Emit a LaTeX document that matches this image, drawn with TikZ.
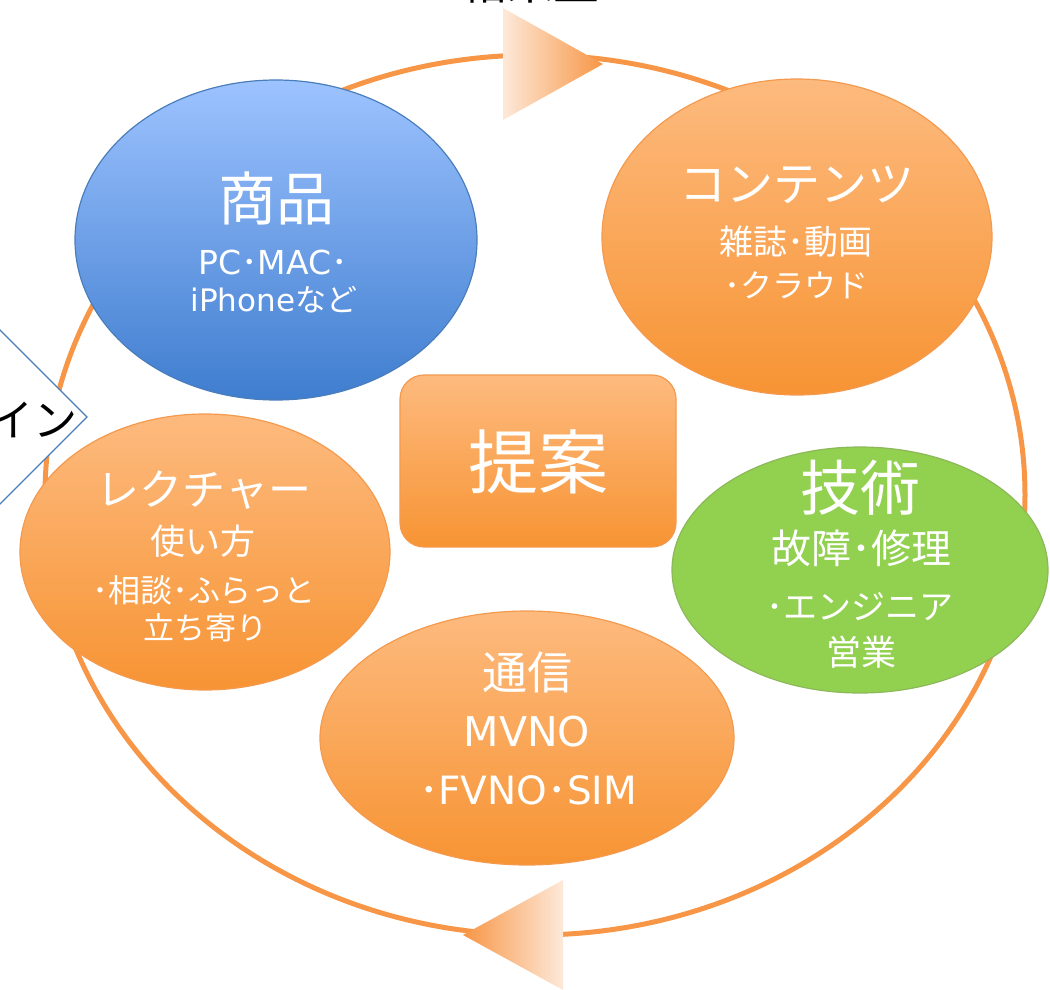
\documentclass[tikz,border=0pt]{standalone}
\usepackage{fontspec}
\setmainfont{Noto Sans CJK JP}
\newfontfamily\lat{DejaVu Sans}
\usetikzlibrary{shapes.geometric}
\definecolor{ring}{HTML}{F79646}
\definecolor{orTop}{HTML}{FDBA7E}
\definecolor{orBot}{HTML}{F79434}
\definecolor{orLine}{HTML}{F49A4E}
\definecolor{blTop}{HTML}{9DC3FF}
\definecolor{blBot}{HTML}{3F7DCF}
\definecolor{blLine}{HTML}{4A7EBB}
\definecolor{grFill}{HTML}{92D050}
\definecolor{grLine}{HTML}{8DB85A}
\definecolor{arLight}{HTML}{FDE9D9}
\newcommand{\fs}[1]{\fontsize{#1}{#1}\selectfont}
\tikzset{
  orbub/.style={ellipse, draw=orLine, line width=1.2pt, top color=orTop, bottom color=orBot, inner sep=0pt},
  blbub/.style={ellipse, draw=blLine, line width=1.2pt, top color=blTop, bottom color=blBot, inner sep=0pt},
  grbub/.style={ellipse, draw=grLine, line width=1.2pt, fill=grFill, inner sep=0pt},
  wtxt/.style={text=white, inner sep=0pt, align=center},
}
\begin{document}
\begin{tikzpicture}[x=1pt,y=-1pt]
\useasboundingbox (0,0) rectangle (1050,990);
\clip (0,0) rectangle (1050,990);
% cut-off title
\node[inner sep=0pt, text=black] (title) at (530,-18) {\fs{46}結果重};
% big ring
\draw[ring, line width=5pt] (535,495) ellipse [x radius=490, y radius=440];
% left cut-off diamond
\filldraw[draw=blLine, line width=1.3pt, fill=white] (87,417) -- (-100,230) -- (-287,417) -- (-100,604) -- cycle;
\node[anchor=east, inner sep=0pt] (online) at (78,420) {\fs{44}オンライン};
% arrows
\shade[left color=arLight, right color=ring] (503,8) -- (603,64) -- (503,120) -- cycle;
\shade[left color=ring, right color=arLight] (563,880) -- (463,935) -- (563,990) -- cycle;
% bubbles
\node[blbub, minimum width=402pt, minimum height=320pt] (shohin) at (276,240) {};
\node[orbub, minimum width=390pt, minimum height=316pt] (content) at (797,237) {};
\node[draw=orLine, line width=1.2pt, top color=orTop, bottom color=orBot, rounded corners=24pt, minimum width=276pt, minimum height=172pt, inner sep=0pt] (teian) at (538,461) {};
\node[grbub, minimum width=376pt, minimum height=246pt] (gijutsu) at (860,570) {};
\node[orbub, minimum width=370pt, minimum height=276pt] (lecture) at (205,552) {};
\node[orbub, minimum width=414pt, minimum height=254pt] (tsushin) at (527,738) {};
% texts
\node[wtxt] (t1) at (276,198) {\fs{58}商品};
\node[wtxt] (t1a) at (273,262) {\fs{33}{\lat PC}･{\lat MAC}･};
\node[wtxt] (t1b) at (274,300) {\fs{31}{\lat iPhone}など};
\node[wtxt] (t2) at (797,185) {\fs{47}コンテンツ};
\node[wtxt] (t2a) at (796,242) {\fs{34}雑誌･動画};
\node[wtxt] (t2b) at (796,285) {\fs{32}･クラウド};
\node[wtxt] (t3) at (538,462) {\fs{70}提案};
\node[wtxt] (t4) at (860,488) {\fs{60}技術};
\node[wtxt] (t4a) at (861,548) {\fs{40}故障･修理};
\node[wtxt] (t4b) at (860,607) {\fs{34}･エンジニア};
\node[wtxt] (t4c) at (861,652) {\fs{35}営業};
\node[wtxt] (t5) at (204,490) {\fs{43}レクチャー};
\node[wtxt] (t5a) at (203,541) {\fs{35}使い方};
\node[wtxt] (t5b) at (204,590) {\fs{32}･相談･ふらっと};
\node[wtxt] (t5c) at (205,628) {\fs{31}立ち寄り};
\node[wtxt] (t6) at (527,672) {\fs{45}通信};
\node[wtxt] (t6a) at (527,732) {\fs{41}\lat MVNO};
\node[wtxt] (t6b) at (528,790) {\fs{39}･{\lat FVNO}･{\lat SIM}};
\end{tikzpicture}
\end{document}
